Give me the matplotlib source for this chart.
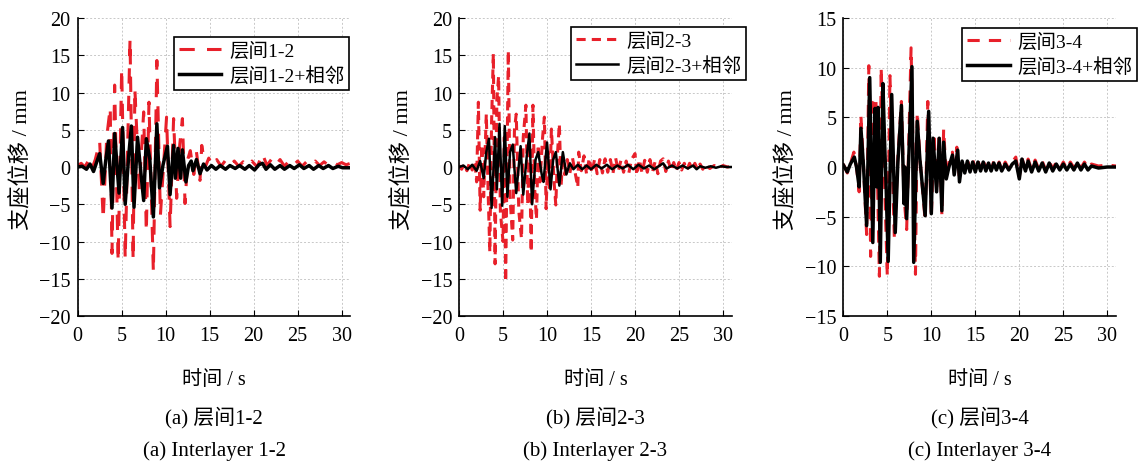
import matplotlib
matplotlib.use("Agg")
import matplotlib.pyplot as plt

plt.rcParams['font.family'] = ['Liberation Serif', 'Noto Sans CJK SC']
plt.rcParams['axes.unicode_minus'] = True

# ---- (a) interlayer 1-2 ----
t1_red = [0, 0.4, 0.8, 1.2, 1.6, 2.0, 2.5, 2.9, 3.3, 3.7, 3.9, 4.2, 4.6, 5.0, 5.4, 5.95, 6.3, 6.5, 7.0, 7.5,
          7.8, 8.1, 8.6, 9.0, 9.4, 9.8, 10.1, 10.5, 10.9, 11.25, 11.6, 11.9, 12.2, 12.5, 12.8, 13.2, 13.5, 13.9, 14.1, 14.5,
          14.9, 15.3, 15.8, 16.3, 16.8, 17.3, 17.8, 18.3, 18.8, 19.3, 19.8, 20.4, 21.0, 21.5, 22.0, 22.5, 23.0, 23.5, 24.0, 24.5,
          25.0, 25.5, 26.0, 26.5, 27.0, 27.5, 28.0, 28.5, 29.0, 29.5, 30.0, 30.5, 31.0]
y1_red = [0.2, 0.5, 0.0, 0.8, -0.3, 1.0, 3.4, -7.0, 4.0, 8.0, -11.6, 11.0, -12.7, 13.2, -12.3, 17.2, -12.5, 10.5, -3.0, 7.4,
          -8.7, 8.7, -14.1, 14.3, -6.5, 1.0, 6.7, -8.0, 6.5, -4.2, 3.0, 6.5, -4.9, 1.0, 2.2, -1.0, 2.0, -1.8, 2.9, 0.0,
          1.2, 0.2, 1.0, 0.1, 0.9, 0.2, 0.8, 0.1, 0.7, 0.1, 0.8, 0.0, 1.8, 0.2, 1.0, 0.2, 1.0, 0.1, 0.8, 0.2,
          0.8, 0.1, 0.7, 0.2, 0.8, 0.2, 0.7, 0.2, 0.7, 0.3, 0.6, 0.3, 0.5]
t1_blk = [0, 0.5, 1.0, 1.4, 1.8, 2.2, 2.5, 2.9, 3.2, 3.5, 3.9, 4.2, 4.7, 5.1, 5.4, 5.8, 6.1, 6.4, 6.8, 7.2,
          7.5, 7.8, 8.2, 8.6, 9.0, 9.3, 9.7, 10.2, 10.5, 10.9, 11.1, 11.4, 11.7, 11.9, 12.3, 12.6, 12.9, 13.1, 13.5, 13.9,
          14.3, 14.7, 15.2, 15.7, 16.2, 16.8, 17.3, 17.9, 18.4, 19.0, 19.5, 20.1, 20.6, 21.0, 21.4, 21.9, 22.4, 23.0, 23.5, 24.1,
          24.6, 25.2, 25.7, 26.3, 26.8, 27.4, 27.9, 28.5, 29.0, 29.6, 30.1, 30.6, 31.0]
y1_blk = [0, 0.1, -0.3, 0.4, -0.6, 0.8, 1.8, -2.2, 1.0, 3.5, -5.5, 4.5, -3.5, 5.3, -5.0, 1.5, 5.5, -5.4, 4.0, -1.0,
          -4.5, 3.8, 1.0, -6.7, 5.8, -2.8, 0.3, 2.8, -3.7, 2.9, -1.5, 2.5, -1.5, 2.3, -2.0, 0.2, 0.8, -0.5, 1.0, -0.9,
          0.4, -0.4, 0.2, -0.3, 0.2, -0.3, 0.2, -0.2, 0.2, -0.3, 0.2, -0.4, 0.3, 0.5, -0.3, 0.3, -0.3, 0.2, -0.3, 0.2,
          -0.2, 0.3, -0.2, 0.2, -0.3, 0.2, -0.2, 0.2, -0.2, 0.1, -0.1, -0.1, -0.1]

# ---- (b) interlayer 2-3 ----
t2_red = [0, 0.3, 0.6, 0.9, 1.2, 1.5, 1.8, 2.0, 2.2, 2.4, 2.6, 2.8, 3.1, 3.3, 3.5, 3.7, 3.9, 4.1, 4.3, 4.5,
          4.7, 5.0, 5.15, 5.3, 5.6, 5.8, 6.1, 6.3, 6.5, 6.8, 7.1, 7.3, 7.6, 7.8, 8.0, 8.2, 8.4, 8.6, 8.8, 9.0,
          9.2, 9.5, 9.7, 9.9, 10.1, 10.3, 10.5, 10.8, 11.0, 11.2, 11.4, 11.6, 11.8, 12.0, 12.3, 12.6, 12.9, 13.2, 13.5, 13.6,
          13.9, 14.2, 14.5, 14.8, 15.1, 15.4, 15.7, 16.0, 16.3, 16.6, 16.9, 17.2, 17.5, 17.8, 18.1, 18.4, 18.7, 19.0, 19.3, 19.6,
          20.0, 20.2, 20.5, 20.8, 21.1, 21.4, 21.7, 22.0, 22.3, 22.6, 22.9, 23.2, 23.5, 23.8, 24.1, 24.4, 24.7, 25.0, 25.3, 25.6,
          25.9, 26.2, 26.5, 26.8, 27.1, 27.4, 27.7, 28.0, 28.5, 29.0, 29.5, 30.0, 30.5, 31.0]
y2_red = [0.2, -0.3, 0.4, -0.5, 0.6, -0.4, 0.8, -2.0, 8.7, -5.8, 3.0, -4.0, 7.1, -3.0, -11.4, 6.0, 15.2, -13.0, 9.0, 12.2,
          -6.0, -10.0, 4.0, -15.4, 15.6, -4.0, -9.8, 5.0, 7.1, -6.0, -9.6, 4.0, 8.3, -5.0, 3.0, -11.4, 8.3, -3.0, -7.0, 3.0,
          -2.0, 4.0, 6.7, -5.6, 2.0, -3.0, 5.1, -2.0, -5.1, 2.0, 5.8, -2.5, 1.5, -1.0, 1.0, -0.8, 1.2, -0.8, -2.7, 2.0,
          -0.5, 1.5, -1.0, 1.2, -0.8, 1.0, -0.9, 1.0, -0.8, 1.1, -0.7, 1.0, -0.8, 1.2, -0.6, 0.9, -0.7, 0.8, -0.8, 1.0,
          1.8, -1.1, 1.0, -0.8, 0.9, -0.7, 1.0, -0.6, 0.8, -0.9, 0.8, 1.1, -0.6, 0.8, -0.5, 0.6, -0.5, 0.6, -0.4, 0.5,
          -0.4, 0.5, -0.3, 0.5, -0.3, 0.4, -0.3, 0.3, -0.2, 0.2, -0.1, 0.2, 0.0, 0.1]
t2_blk = [0, 0.5, 1.0, 1.5, 2.0, 2.4, 2.8, 3.1, 3.4, 3.7, 4.1, 4.3, 4.6, 4.9, 5.2, 5.5, 5.8, 6.1, 6.5, 7.0,
          7.3, 7.7, 8.0, 8.3, 8.7, 9.0, 9.4, 9.6, 10.0, 10.4, 10.7, 11.0, 11.4, 11.8, 12.2, 12.6, 13.0, 13.5, 14.0, 14.5,
          15.0, 15.6, 16.2, 16.8, 17.4, 18.0, 18.6, 19.2, 19.8, 20.4, 21.0, 21.6, 22.2, 22.8, 23.2, 23.6, 24.2, 24.8, 25.4, 26.0,
          26.6, 27.0, 27.4, 28.0, 28.6, 29.2, 29.8, 30.4, 31.0]
y2_blk = [0, 0.2, -0.3, 0.3, -0.5, 0.8, -1.5, 2.0, 3.8, -5.5, 4.0, -3.0, 5.8, -5.2, 5.5, -4.0, 2.0, 3.0, -3.5, 2.8,
          -3.7, 1.5, 4.5, -5.0, 1.0, 2.0, -1.0, -2.0, 3.3, -3.0, 1.0, 2.0, -2.5, 2.0, -1.0, 0.5, -0.3, 0.3, -0.3, 0.2,
          -0.3, 0.3, -0.2, 0.3, -0.3, 0.2, -0.2, 0.3, -0.3, 0.3, -0.2, 0.2, -0.3, 0.2, 0.5, -0.2, 0.2, -0.2, 0.2, -0.2,
          0.2, -0.3, 0.1, -0.1, 0.1, -0.1, 0.1, 0.0, 0.0]

# ---- (c) interlayer 3-4 ----
t3_red = [0, 0.45, 0.8, 1.2, 1.5, 1.8, 2.0, 2.3, 2.65, 2.9, 3.1, 3.4, 3.7, 4.1, 4.3, 4.6, 5.0, 5.3, 5.8, 6.2,
          6.6, 6.9, 7.2, 7.7, 8.2, 8.4, 8.7, 9.3, 9.6, 10.0, 10.3, 10.6, 10.9, 11.2, 11.4, 11.7, 12.0, 12.4, 12.6, 12.9,
          13.2, 13.5, 13.8, 14.1, 14.4, 14.7, 15.0, 15.3, 15.6, 15.9, 16.2, 16.5, 16.8, 17.1, 17.4, 17.7, 18.0, 18.4, 18.8, 19.2,
          19.6, 20.0, 20.3, 20.7, 21.0, 21.4, 21.8, 22.2, 22.6, 23.0, 23.4, 23.8, 24.2, 24.6, 25.0, 25.4, 25.8, 26.2, 26.6, 27.0,
          27.4, 27.8, 28.2, 29.0, 30.0, 31.0]
y3_red = [0.3, -0.6, 0.3, 1.5, 0.0, -2.5, 5.2, 0.0, -6.8, 10.2, -9.0, 6.5, 7.0, -11.0, 10.0, 1.0, -11.0, 9.2, -7.2, 1.0,
          6.6, -3.0, -6.3, 12.0, -10.8, 5.5, 1.0, -5.4, 6.6, -5.1, 3.4, -2.0, 3.4, -4.8, 3.8, -1.0, 0.5, 1.5, -0.6, 2.0,
          -1.3, 0.8, -0.4, 0.8, -0.3, 0.8, -0.3, 0.7, -0.3, 0.7, -0.2, 0.6, -0.3, 0.6, -0.2, 0.5, -0.3, 0.5, -0.2, 0.5,
          1.0, -1.0, 0.9, -0.3, 0.8, -0.3, 0.7, -0.2, 0.6, -0.3, 0.6, -0.2, 0.5, -0.2, 0.5, -0.2, 0.5, -0.1, 0.6, -0.1,
          0.5, -0.1, 0.3, 0.1, 0.2, 0.1]
t3_blk = [0, 0.45, 0.8, 1.25, 1.5, 1.8, 2.0, 2.3, 2.65, 3.0, 3.35, 3.6, 3.8, 3.95, 4.2, 4.5, 4.7, 4.85, 5.1, 5.5,
          5.9, 6.2, 6.6, 6.9, 7.0, 7.2, 7.8, 8.0, 8.4, 8.7, 9.3, 9.7, 10.0, 10.2, 10.6, 10.9, 11.2, 11.4, 11.7, 12.0,
          12.4, 12.6, 13.0, 13.2, 13.5, 13.8, 14.1, 14.4, 14.7, 15.0, 15.3, 15.6, 15.9, 16.2, 16.5, 16.8, 17.1, 17.4, 17.7, 18.0,
          18.4, 18.8, 19.2, 19.6, 20.0, 20.3, 20.7, 21.0, 21.4, 21.8, 22.2, 22.6, 23.0, 23.4, 23.8, 24.2, 24.6, 25.0, 25.4, 25.8,
          26.2, 26.6, 27.0, 27.4, 27.8, 28.2, 29.0, 30.0, 31.0]
y3_blk = [0.2, -0.5, 0.3, 1.0, 0.0, -2.0, 3.9, 0.0, -5.9, 9.0, -7.6, 5.9, -2.0, 6.0, -9.6, 8.4, 2.2, -1.5, -9.5, 7.3,
          -6.6, 0.5, 6.2, -3.7, 0.0, -5.2, 10.1, -9.6, 4.6, 0.8, -4.9, 5.6, -4.7, 2.9, -2.5, 2.9, -4.4, 2.5, -1.2, 0.0,
          1.2, -0.8, 1.7, -1.5, 0.6, -0.6, 0.6, -0.5, 0.5, -0.5, 0.5, -0.4, 0.5, -0.4, 0.4, -0.4, 0.4, -0.3, 0.4, -0.4,
          0.3, -0.3, 0.3, 0.6, -1.2, 0.8, -0.4, 0.6, -0.5, 0.5, -0.4, 0.4, -0.5, 0.4, -0.4, 0.3, -0.3, 0.3, -0.3, 0.3,
          -0.3, 0.4, -0.3, 0.3, -0.3, 0.1, -0.1, 0.0, 0.0]

panels = [
    (t1_red, y1_red, t1_blk, y1_blk, '层间1-2', (-20, 20), (0, (5, 4)), 2.5, (0.996, 0.936)),
    (t2_red, y2_red, t2_blk, y2_blk, '层间2-3', (-20, 20), (0, (3, 2)), 1.8, (1.053, 0.97)),
    (t3_red, y3_red, t3_blk, y3_blk, '层间3-4', (-15, 15), (0, (4, 3)), 2.5, (1.078, 0.966)),
]
captions = ['(a) 层间1-2', '(b) 层间2-3', '(c) 层间3-4']
captions_en = ['(a) Interlayer 1-2', '(b) Interlayer 2-3', '(c) Interlayer 3-4']
lefts = [0.0682, 0.403, 0.7404]

fig = plt.figure(figsize=(11.39, 4.64), dpi=100)

for i, (tr, yr, tb, yb, name, ylim, dash, lw_blk, anchor) in enumerate(panels):
    ax = fig.add_axes([lefts[i], 0.3168, 0.2395, 0.6422])
    ax.plot(tr, yr, color='#e8202a', lw=2.2, linestyle=dash, label=name)
    ax.plot(tb, yb, color='black', lw=lw_blk, label=name + '+相邻')
    ax.set_xlim(0, 31)
    ax.set_ylim(*ylim)
    ax.set_xticks([0, 5, 10, 15, 20, 25, 30])
    ax.set_yticks(range(ylim[0], ylim[1] + 1, 5))
    ax.grid(True, color='#c8c8c8', linestyle=(0, (2, 2)), lw=0.7)
    ax.spines['top'].set_visible(False)
    ax.spines['right'].set_visible(False)
    ax.spines['left'].set_linewidth(1.2)
    ax.spines['bottom'].set_linewidth(1.2)
    ax.tick_params(direction='in', labelsize=14.5, length=4)
    ax.tick_params(axis='x', pad=7)
    ax.tick_params(axis='y', pad=5)
    ax.set_xlabel('时间 / s', fontsize=14.5, labelpad=18)
    ax.set_ylabel('支座位移 / mm', fontsize=16, labelpad=2)
    ax.yaxis.set_label_coords(-0.17, 0.53)
    leg = ax.legend(loc='upper right', bbox_to_anchor=anchor, fontsize=14, fancybox=False,
                    framealpha=1, edgecolor='black', borderpad=0.25, handlelength=2.2,
                    handletextpad=0.4, labelspacing=0.3, borderaxespad=0)
    leg.get_frame().set_linewidth(1.2)
    cx = lefts[i] + 0.2395 / 2
    fig.text(cx, 0.099, captions[i], ha='center', va='center', fontsize=15)
    fig.text(cx, 0.028, captions_en[i], ha='center', va='center', fontsize=15)

fig.savefig('out.png', dpi=100)
